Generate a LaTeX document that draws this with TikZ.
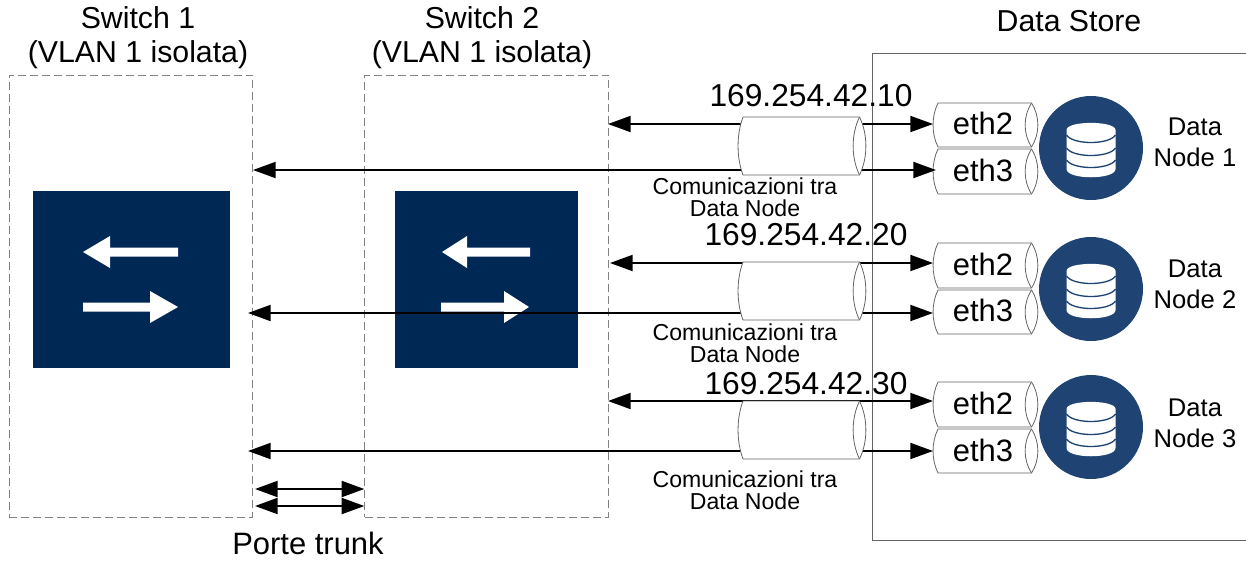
\documentclass[tikz,border=0pt]{standalone}
\usepackage{fontspec}
\setmainfont{Liberation Sans}
\usetikzlibrary{arrows.meta,calc}
\definecolor{navy}{RGB}{0,40,85}
\definecolor{dbblue}{RGB}{31,68,116}
\definecolor{edgegray}{RGB}{100,100,100}
\definecolor{dashgray}{RGB}{130,130,130}
\tikzset{
  switchzone/.style={draw=dashgray,line width=.75pt,dash pattern=on 6pt off 3pt,minimum width=182.5pt,minimum height=331.5pt,inner sep=0pt},
  iconbox/.style={fill=navy,inner sep=0pt},
  bigtext/.style={font=\fontsize{23.2}{26}\selectfont,inner sep=0pt,align=center},
  swtext/.style={font=\fontsize{22.7}{25.5}\selectfont,inner sep=0pt,align=center},
  iptext/.style={font=\fontsize{23.8}{26}\selectfont,inner sep=0pt,align=center},
  storetext/.style={font=\fontsize{22.7}{26}\selectfont,inner sep=0pt,align=center},
  midtext/.style={font=\fontsize{19.2}{23}\selectfont,inner sep=0pt,align=center},
  smalltext/.style={font=\fontsize{17.3}{16.5}\selectfont,inner sep=0pt,align=center},
  link/.style={line width=1.5pt,draw=black,{Triangle[length=17pt,width=12pt]}-{Triangle[length=17pt,width=12pt]}},
  tubeedge/.style={draw=edgegray,line width=.6pt,fill=white},
  anchorbox/.style={inner sep=0pt,outer sep=0pt},
}
% \tubeshape{name}{cx}{cy}{half width}{half height}
\newcommand{\tubeshape}[5]{%
  \begin{scope}[shift={(#2,#3)}]
    \path[tubeedge] ({-#4+5},-#5) -- ({#4-6.5},-#5)
      .. controls ({#4+2},{-#5*.4}) and ({#4+2},{#5*.4}) .. ({#4-6.5},#5)
      -- ({-#4+5},#5)
      .. controls ({-#4-1.6},{#5*.4}) and ({-#4-1.6},{-#5*.4}) .. ({-#4+5},-#5) -- cycle;
    \path[tubeedge,fill=none] ({#4-6.5},-#5)
      .. controls ({#4-15},{-#5*.4}) and ({#4-15},{#5*.4}) .. ({#4-6.5},#5);
    \node[anchorbox,minimum width={2*#4*.75pt},minimum height={2*#5*.75pt}] (#1) at (0,0) {};
  \end{scope}}
% \whitearrow: x of tail, x of head base, x of tip, y
\newcommand{\whitearrow}[4]{%
  \fill[white] (#1,#4-4.5) -- (#2,#4-4.5) -- (#2,#4-16) -- (#3,#4) -- (#2,#4+16) -- (#2,#4+4.5) -- (#1,#4+4.5) -- cycle;}
% \dbnode{name}{cx}{cy}
\newcommand{\dbnode}[3]{%
  \node[circle,fill=dbblue,minimum size=78pt,inner sep=0pt] (#1) at (#2,#3) {};
  \begin{scope}[shift={(#2,#3)}]
    \fill[white] (-24.5,-18) .. controls (-24.5,-27.5) and (24.5,-27.5) .. (24.5,-18)
      -- (24.5,21) .. controls (24.5,32) and (-24.5,32) .. (-24.5,21) -- cycle;
    \foreach \yy in {-13,0,12}{
      \draw[dbblue,line width=1pt] (-24.5,\yy) .. controls (-18,\yy+10) and (18,\yy+10) .. (24.5,\yy);
    }
  \end{scope}}
\begin{document}
\begin{tikzpicture}[x=.75pt,y=-.75pt]
\useasboundingbox (0,0) rectangle (1246,562);
% switches
\node[switchzone] (sw1) at (131,296) {};
\node[switchzone] (sw2) at (486.5,296) {};
\node[iconbox,minimum width=147.75pt,minimum height=132.75pt] (ic1) at (131.5,279.5) {};
\node[iconbox,minimum width=137.25pt,minimum height=132.75pt] (ic2) at (486.5,279.5) {};
\whitearrow{178}{110}{83}{252}
\whitearrow{83}{150}{178}{307}
\whitearrow{530}{467}{442}{252}
\whitearrow{441}{504}{529}{307}
% data store: its right side lies beyond the picture's edge
\begin{scope}
\clip (0,0) rectangle (1246,562);
\node[draw=edgegray,line width=.6pt,inner sep=0pt,minimum width=285pt,minimum height=365.25pt] (store) at (1062,296.5) {};
\end{scope}
% eth tubes
\tubeshape{e12}{985.5}{125}{52.5}{22}
\tubeshape{e13}{985.5}{171.5}{52.5}{22.5}
\tubeshape{e22}{985.5}{265.5}{52.5}{22.5}
\tubeshape{e23}{985.5}{312}{52.5}{22}
\tubeshape{e32}{985.5}{404.5}{52.5}{22.5}
\tubeshape{e33}{985.5}{451}{52.5}{22}
% data nodes
\dbnode{db1}{1091}{148}
\dbnode{db2}{1091}{289}
\dbnode{db3}{1091}{427}
% connector free ends
\coordinate (l12) at (608,124);
\coordinate (l13) at (253,170);
\coordinate (l22) at (610,263);
\coordinate (l23) at (248,313);
\coordinate (l32) at (608,401);
\coordinate (l33) at (248,451);
\coordinate (t1a) at (255,489);
\coordinate (t1b) at (255,506);
\draw[link] (l12) -- (e12.west |- l12);
\draw[link] (l13) -- ($(e13.west |- l13)+(3,0)$);
\draw[link] (l22) -- (e22.west |- l22);
\draw[link] (l23) -- (e23.west |- l23);
\draw[link] (l32) -- (e32.west |- l32);
\draw[link] (l33) -- (e33.west |- l33);
\draw[link] (t1a) -- (sw2.west |- t1a);
\draw[link] (t1b) -- (sw2.west |- t1b);
% bundling tubes
\tubeshape{b1}{802}{146}{64}{29}
\tubeshape{b2}{802}{291}{64}{29}
\tubeshape{b3}{802}{430}{64}{29}
% texts
\node[swtext] (tsw1) at (138,37.5) {Switch 1\\(VLAN 1 isolata)};
\node[swtext] (tsw2) at (482,37.5) {Switch 2\\(VLAN 1 isolata)};
\node[storetext] (tds) at (1069,21) {Data Store};
\node[iptext] (ip1) at (811,96) {169.254.42.10};
\node[iptext] (ip2) at (806,235) {169.254.42.20};
\node[iptext] (ip3) at (806,384) {169.254.42.30};
\node[bigtext] (ttr) at (308,543) {Porte trunk};
\node[bigtext] at (983,123) {eth2};
\node[bigtext] at (983,170) {eth3};
\node[bigtext] at (983,264) {eth2};
\node[bigtext] at (983,310) {eth3};
\node[bigtext] at (983,403) {eth2};
\node[bigtext] at (983,450) {eth3};
\node[smalltext] at (745,197) {Comunicazioni tra\\Data Node};
\node[smalltext] at (745,343) {Comunicazioni tra\\Data Node};
\node[smalltext] at (745,490) {Comunicazioni tra\\Data Node};
\node[midtext] at (1195,142.5) {Data\\Node 1};
\node[midtext] at (1195,284.5) {Data\\Node 2};
\node[midtext] at (1195,423) {Data\\Node 3};
\end{tikzpicture}
\end{document}
